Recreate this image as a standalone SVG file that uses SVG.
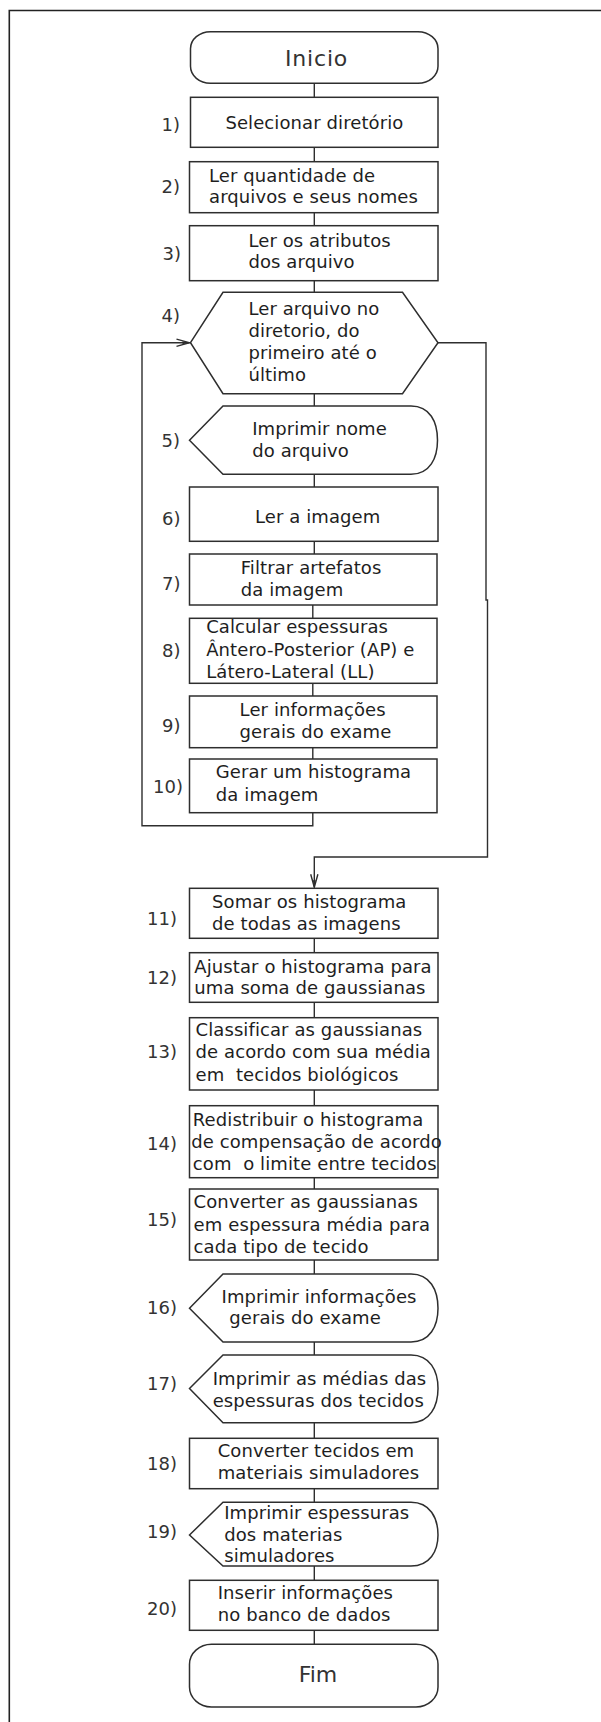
<svg xmlns="http://www.w3.org/2000/svg" width="601" height="1722" viewBox="0 0 601 1722">
  <style>
    .shape { fill: #ffffff; stroke: #2e2e2e; stroke-width: 1.5; }
    .wire { fill: none; stroke: #2e2e2e; stroke-width: 1.4; }
    .frame { fill: none; stroke: #222222; stroke-width: 1.6; }
    .txt { font-family: "DejaVu Sans", Verdana, sans-serif; font-size: 18px; fill: #1e1e1e; letter-spacing: 0.1px; }
    .num { font-family: "DejaVu Sans", Verdana, sans-serif; font-size: 18px; fill: #333333; text-anchor: end; }
    .term { font-family: "DejaVu Sans", Verdana, sans-serif; font-size: 22px; fill: #333333; text-anchor: middle; }
  </style>
  <defs>
    <marker id="head" markerUnits="userSpaceOnUse" markerWidth="16" markerHeight="10" viewBox="-14 -5 16 10" refX="0" refY="0" orient="auto">
      <path d="M -13 -3.6 L 0 0 L -13 3.6" fill="none" stroke="#2e2e2e" stroke-width="1.4"/>
      <path d="M -7 -1.5 L 0 0 L -7 1.5 Z" fill="#2e2e2e"/>
    </marker>
  </defs>

  <rect width="601" height="1722" fill="#ffffff"/>
  <!-- page frame: top and left edges -->
  <path class="frame" d="M 9.3 1722 V 10.5 H 601"/>

  <!-- connectors -->
  <g id="connectors">
    <line class="wire" x1="314.3" y1="83.5" x2="314.3" y2="97.3"/>
    <line class="wire" x1="314.3" y1="147.3" x2="314.3" y2="161.7"/>
    <line class="wire" x1="314.3" y1="212.7" x2="314.3" y2="225.7"/>
    <line class="wire" x1="314.3" y1="280.7" x2="314.3" y2="292.3"/>
    <line class="wire" x1="314.3" y1="393.7" x2="314.3" y2="406"/>
    <line class="wire" x1="314.3" y1="474.3" x2="314.3" y2="487"/>
    <line class="wire" x1="314.3" y1="541.3" x2="314.3" y2="554"/>
    <line class="wire" x1="312.8" y1="605" x2="312.8" y2="618.3"/>
    <line class="wire" x1="312.8" y1="683.3" x2="312.8" y2="696"/>
    <line class="wire" x1="312.8" y1="747.7" x2="312.8" y2="759"/>
    <!-- loop back to step 4 -->
    <path class="wire" d="M 312.8 812.7 V 825.7 H 142 V 342.7 H 189.5" marker-end="url(#head)"/>
    <!-- exit of the loop to step 11 -->
    <path class="wire" d="M 438 342.7 H 486 V 600 H 487.5 V 857 H 314.3 V 887.3" marker-end="url(#head)"/>
    <line class="wire" x1="314.3" y1="938.3" x2="314.3" y2="952.7"/>
    <line class="wire" x1="314.3" y1="1002.3" x2="314.3" y2="1017.7"/>
    <line class="wire" x1="314.3" y1="1090" x2="314.3" y2="1105.7"/>
    <line class="wire" x1="314.3" y1="1177.7" x2="314.3" y2="1189"/>
    <line class="wire" x1="314.3" y1="1260" x2="314.3" y2="1274"/>
    <line class="wire" x1="314.3" y1="1342" x2="314.3" y2="1355"/>
    <line class="wire" x1="314.3" y1="1422.7" x2="314.3" y2="1438.3"/>
    <line class="wire" x1="314.3" y1="1488.7" x2="314.3" y2="1502.3"/>
    <line class="wire" x1="314.3" y1="1566" x2="314.3" y2="1580.3"/>
    <line class="wire" x1="314.3" y1="1630.3" x2="314.3" y2="1644.3"/>
  </g>

  <g id="inicio">
    <rect class="shape" x="190.5" y="31.7" width="247.5" height="51.6" rx="20" ry="17"/>
    <text class="term" x="316.6" y="65.7" letter-spacing="0.8">Inicio</text>
  </g>

  <g id="step1">
    <rect class="shape" x="190.5" y="97.3" width="247.5" height="50"/>
    <text class="num" x="180" y="130.5">1)</text>
    <text class="txt" x="225.4" y="129.3">Selecionar diretório</text>
  </g>

  <g id="step2">
    <rect class="shape" x="189.5" y="161.7" width="248.5" height="51"/>
    <text class="num" x="180" y="193.3">2)</text>
    <text class="txt" x="209" y="181.7">Ler quantidade de</text>
    <text class="txt" x="209" y="203.3">arquivos e seus nomes</text>
  </g>

  <g id="step3">
    <rect class="shape" x="189.5" y="225.7" width="248.5" height="55"/>
    <text class="num" x="181" y="259.5">3)</text>
    <text class="txt" x="248.4" y="246.7">Ler os atributos</text>
    <text class="txt" x="248.4" y="268.3">dos arquivo</text>
  </g>

  <g id="step4">
    <polygon class="shape" points="190.5,342.7 223,292.3 402.5,292.3 438,342.7 402.5,393.7 223,393.7"/>
    <text class="num" x="180" y="321.7">4)</text>
    <text class="txt" x="248.4" y="315">Ler arquivo no</text>
    <text class="txt" x="248.4" y="337.3">diretorio, do</text>
    <text class="txt" x="248.4" y="359.3">primeiro até o</text>
    <text class="txt" x="248.4" y="381">último</text>
  </g>

  <g id="step5">
    <path class="shape" d="M 189.5 440.2 L 223 406 H 411 C 430 406 437.5 422 437.5 440.2 C 437.5 458 430 474.3 411 474.3 H 223 Z"/>
    <text class="num" x="180" y="446.7">5)</text>
    <text class="txt" x="252.2" y="435">Imprimir nome</text>
    <text class="txt" x="252.2" y="456.7">do arquivo</text>
  </g>

  <g id="step6">
    <rect class="shape" x="189.5" y="487" width="248.5" height="54.3"/>
    <text class="num" x="180.5" y="525">6)</text>
    <text class="txt" x="254.9" y="522.7">Ler a imagem</text>
  </g>

  <g id="step7">
    <rect class="shape" x="189.5" y="554" width="247.5" height="51"/>
    <text class="num" x="180.5" y="590">7)</text>
    <text class="txt" x="240.7" y="574">Filtrar artefatos</text>
    <text class="txt" x="240.7" y="596">da imagem</text>
  </g>

  <g id="step8">
    <rect class="shape" x="189.5" y="618.3" width="247.5" height="65"/>
    <text class="num" x="180.5" y="656.7">8)</text>
    <text class="txt" x="206.2" y="633.3">Calcular espessuras</text>
    <text class="txt" x="206.2" y="656">Ântero-Posterior (AP) e</text>
    <text class="txt" x="206.2" y="678.3">Látero-Lateral (LL)</text>
  </g>

  <g id="step9">
    <rect class="shape" x="189.5" y="696" width="247.5" height="51.7"/>
    <text class="num" x="180.5" y="731.7">9)</text>
    <text class="txt" x="239.6" y="716">Ler informações</text>
    <text class="txt" x="239.6" y="737.7">gerais do exame</text>
  </g>

  <g id="step10">
    <rect class="shape" x="189.5" y="759" width="247.5" height="53.7"/>
    <text class="num" x="183" y="793.3">10)</text>
    <text class="txt" x="215.8" y="778.3">Gerar um histograma</text>
    <text class="txt" x="215.8" y="800.7">da imagem</text>
  </g>

  <g id="step11">
    <rect class="shape" x="189.5" y="888.3" width="248.5" height="50"/>
    <text class="num" x="177" y="925">11)</text>
    <text class="txt" x="212" y="908.3">Somar os histograma</text>
    <text class="txt" x="212" y="930">de todas as imagens</text>
  </g>

  <g id="step12">
    <rect class="shape" x="189.5" y="952.7" width="248.5" height="49.6"/>
    <text class="num" x="177" y="984">12)</text>
    <text class="txt" x="194.3" y="972.7">Ajustar o histograma para</text>
    <text class="txt" x="194.3" y="994">uma soma de gaussianas</text>
  </g>

  <g id="step13">
    <rect class="shape" x="189.5" y="1017.7" width="248.5" height="72.3"/>
    <text class="num" x="177" y="1058.3">13)</text>
    <text class="txt" x="195.5" y="1036">Classificar as gaussianas</text>
    <text class="txt" x="195.5" y="1058.3">de acordo com sua média</text>
    <text class="txt" x="195.5" y="1080.7" xml:space="preserve">em  tecidos biológicos</text>
  </g>

  <g id="step14">
    <rect class="shape" x="189.5" y="1105.7" width="248.5" height="72"/>
    <text class="num" x="177" y="1150">14)</text>
    <text class="txt" x="192.8" y="1126">Redistribuir o histograma</text>
    <text class="txt" x="191.2" y="1147.7" letter-spacing="-0.35">de compensação de acordo</text>
    <text class="txt" x="192.8" y="1170" xml:space="preserve">com  o limite entre tecidos</text>
  </g>

  <g id="step15">
    <rect class="shape" x="189.5" y="1189" width="248.5" height="71"/>
    <text class="num" x="177" y="1226">15)</text>
    <text class="txt" x="193.6" y="1208.3">Converter as gaussianas</text>
    <text class="txt" x="193.6" y="1230.7">em espessura média para</text>
    <text class="txt" x="193.6" y="1252.7">cada tipo de tecido</text>
  </g>

  <g id="step16">
    <path class="shape" d="M 189.5 1308.3 L 223 1274 H 411 C 430 1274 438 1290 438 1308.3 C 438 1326 430 1342 411 1342 H 223 Z"/>
    <text class="num" x="177" y="1314">16)</text>
    <text class="txt" x="221.5" y="1302.7">Imprimir informações</text>
    <text class="txt" x="229.2" y="1324">gerais do exame</text>
  </g>

  <g id="step17">
    <path class="shape" d="M 189.5 1388.5 L 223 1355 H 411 C 430 1355 438 1371 438 1388.5 C 438 1406 430 1422.7 411 1422.7 H 223 Z"/>
    <text class="num" x="177" y="1390">17)</text>
    <text class="txt" x="212.7" y="1385">Imprimir as médias das</text>
    <text class="txt" x="212.7" y="1406.7">espessuras dos tecidos</text>
  </g>

  <g id="step18">
    <rect class="shape" x="189.5" y="1438.3" width="248.5" height="50.4"/>
    <text class="num" x="177" y="1470">18)</text>
    <text class="txt" x="217.7" y="1456.7">Converter tecidos em</text>
    <text class="txt" x="217.7" y="1479">materiais simuladores</text>
  </g>

  <g id="step19">
    <path class="shape" d="M 189.5 1535 L 223 1502.3 H 411 C 430 1502.3 438 1518 438 1535 C 438 1551 430 1566 411 1566 H 223 Z"/>
    <text class="num" x="177" y="1537.7">19)</text>
    <text class="txt" x="224.2" y="1519.3">Imprimir espessuras</text>
    <text class="txt" x="224.2" y="1541">dos materias</text>
    <text class="txt" x="224.2" y="1562.3">simuladores</text>
  </g>

  <g id="step20">
    <rect class="shape" x="189.5" y="1580.3" width="248.5" height="50"/>
    <text class="num" x="177" y="1615">20)</text>
    <text class="txt" x="217.7" y="1599">Inserir informações</text>
    <text class="txt" x="217.7" y="1620.7">no banco de dados</text>
  </g>

  <g id="fim">
    <rect class="shape" x="189.5" y="1644.3" width="248.5" height="62.7" rx="22" ry="20"/>
    <text class="term" x="318" y="1681.7">Fim</text>
  </g>
</svg>
